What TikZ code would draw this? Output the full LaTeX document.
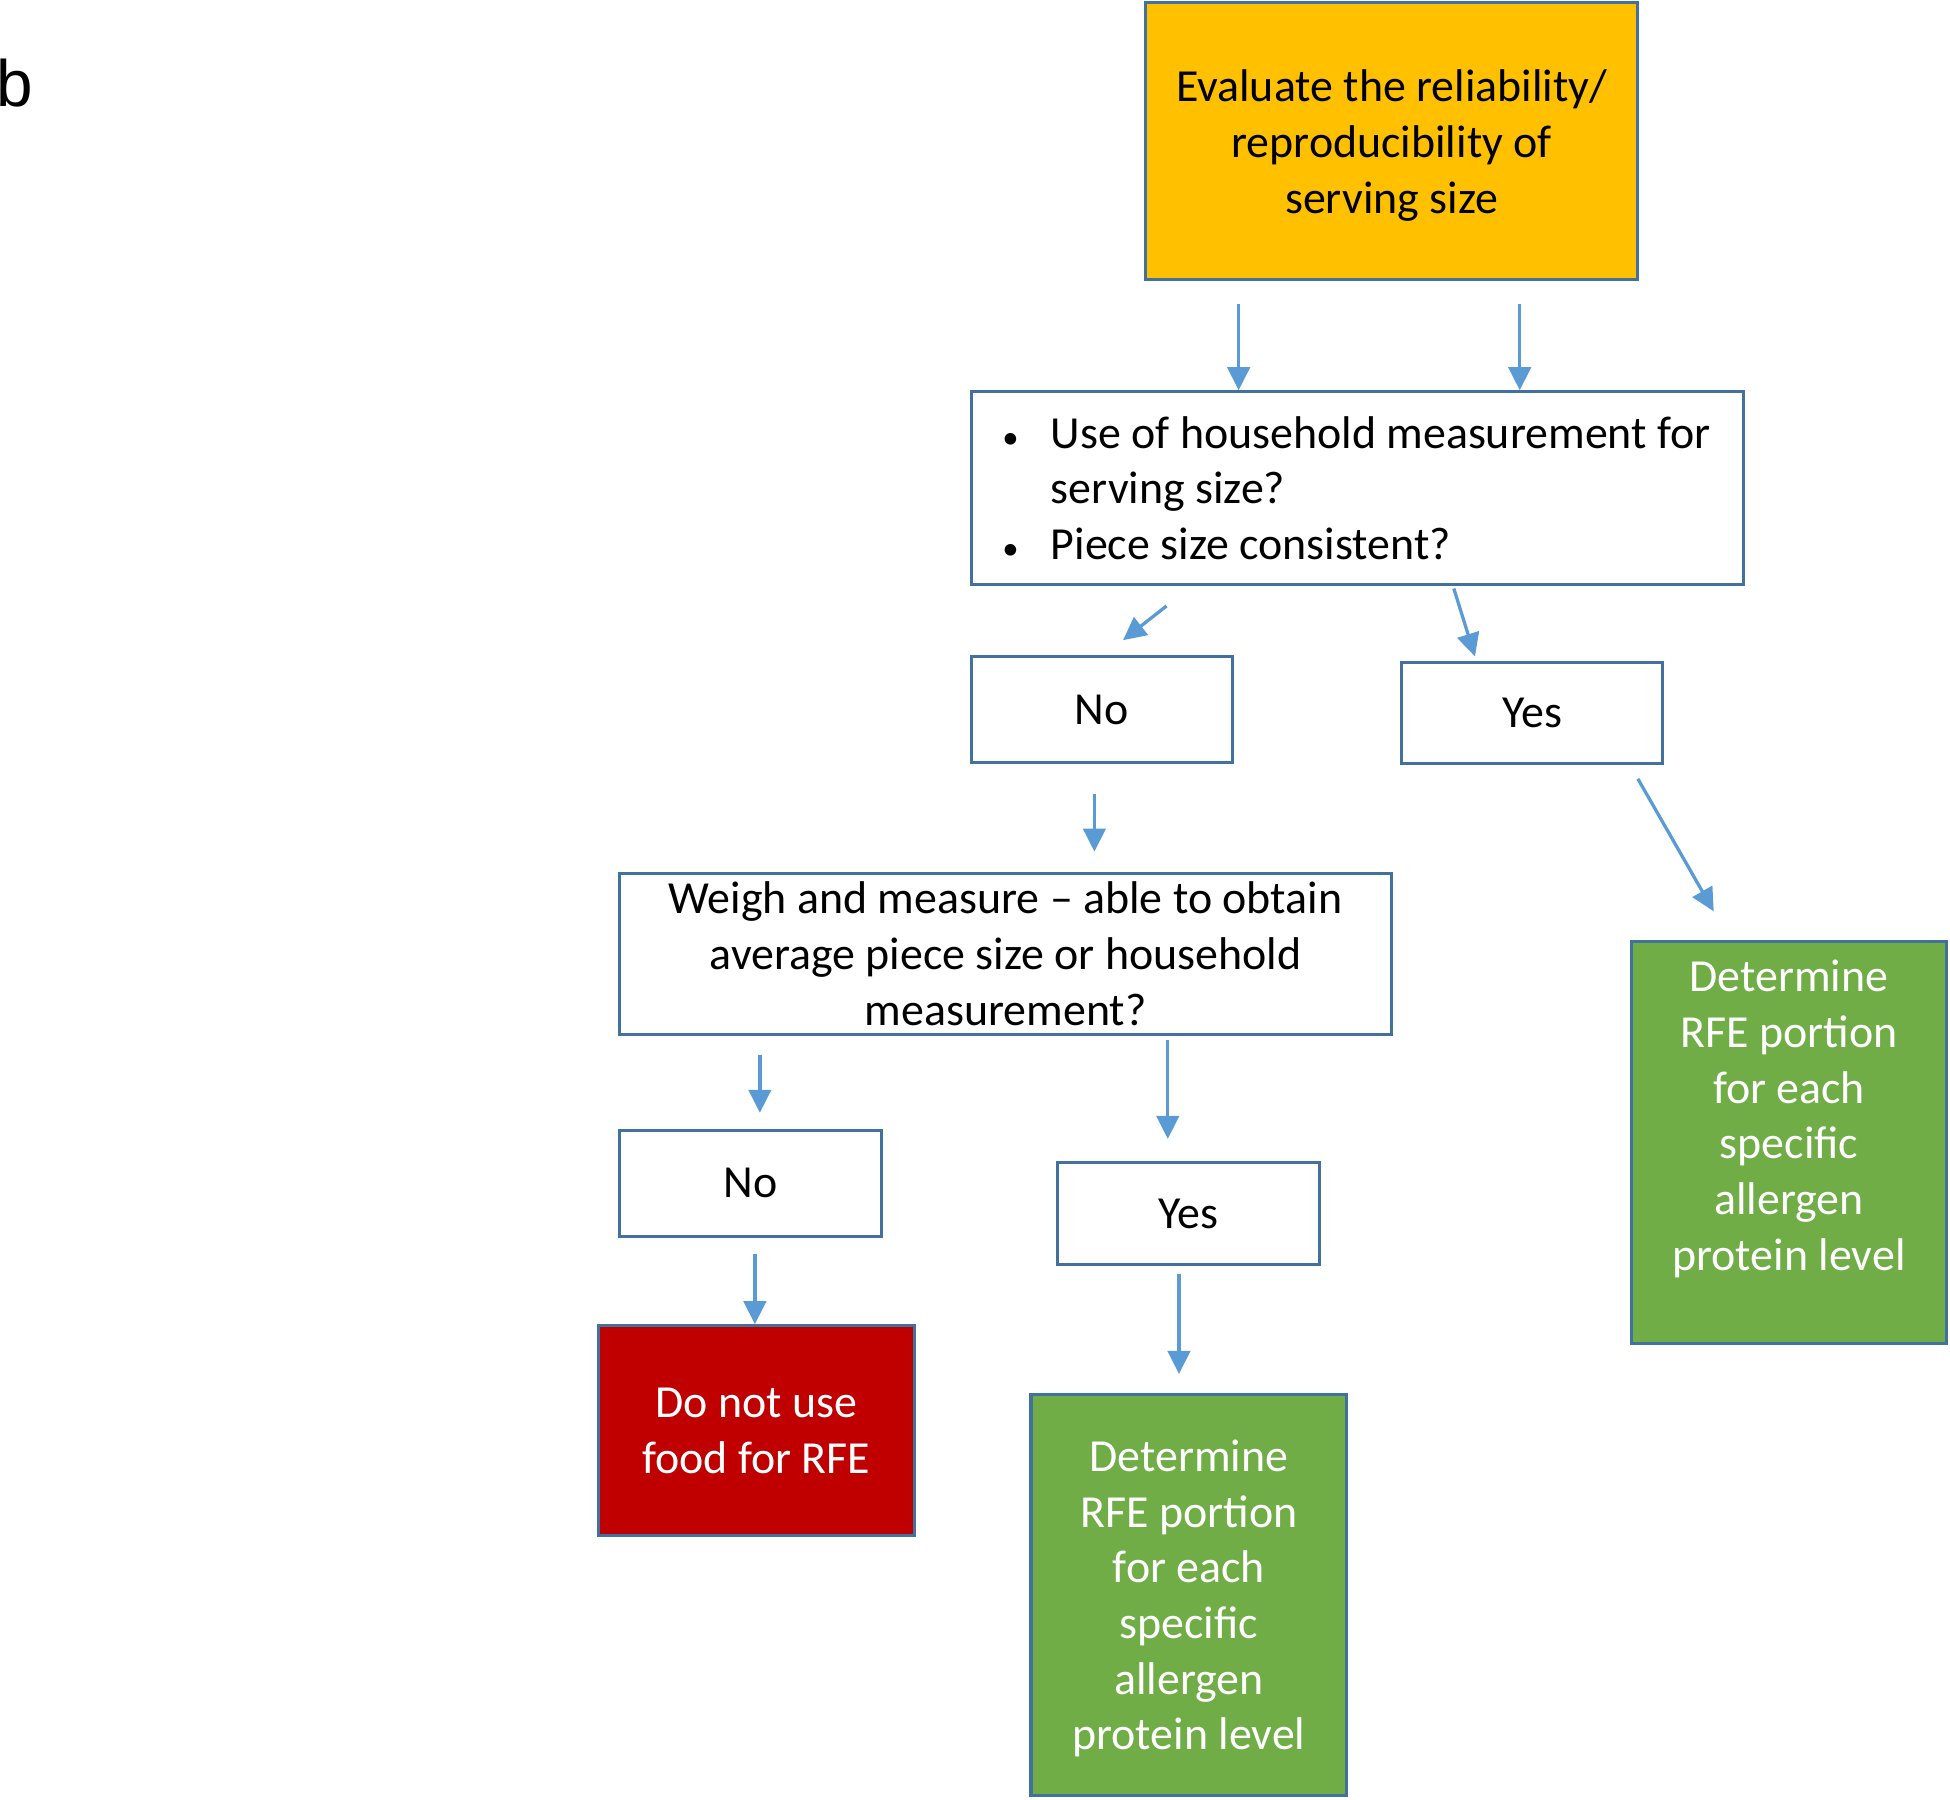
\documentclass[tikz,border=0pt]{standalone}
\usepackage{fontspec}
\setmainfont{Carlito}
\newfontfamily\panelfont{Liberation Sans}
\usepackage{tikz}
\usetikzlibrary{arrows.meta, positioning}
\usepackage{xcolor}
\definecolor{boxblue}{HTML}{41719C}
\definecolor{arrowblue}{HTML}{5B9BD5}
\definecolor{gold}{HTML}{FFC000}
\definecolor{stopred}{HTML}{C00000}
\definecolor{leafgreen}{HTML}{70AD47}

\begin{document}
\begin{tikzpicture}[
    box/.style={draw=boxblue, fill=white, line width=1.4pt, inner sep=0pt, align=center, font=\fontsize{21}{25.5}\selectfont},
    arr/.style={-{Triangle[length=0.37cm, width=0.36cm]}, line width=1.5pt, draw=arrowblue}
]
    \useasboundingbox (0,0) rectangle (31.36,-28.94);

    \node[anchor=base west, inner sep=0pt, font=\panelfont\fontsize{30}{34}\selectfont] (panel) at (-0.06,-1.72) {b};

    \node[box, fill=gold, minimum width=7.92cm, minimum height=4.46cm] (eval) at (22.38,-2.27) {%
        \rule{0pt}{18.5pt}Evaluate the reliability/\\reproducibility of\\serving size%
    };
    \node[box, minimum width=12.42cm, minimum height=3.1cm] (household) at (21.83,-7.85) {%
        \begin{tabular}{@{\hspace{0.5cm}}p{0.78cm}@{}p{11.14cm}@{}}
            \rule{0pt}{22pt}{\fontsize{15}{15}\selectfont\textbullet} & Use of household measurement for\\
                        & serving size?\\
            {\fontsize{15}{15}\selectfont\textbullet} & Piece size consistent?
        \end{tabular}%
    };
    \node[box, minimum width=4.2cm, minimum height=1.7cm] (noA) at (17.72,-11.41) {No};
    \node[box, minimum width=4.2cm, minimum height=1.62cm] (yesA) at (24.64,-11.47) {Yes};
    \node[box, minimum width=12.42cm, minimum height=2.6cm] (weigh) at (16.17,-15.34) {%
        Weigh and measure -- able to obtain\\average piece size or household\\measurement?%
    };
    \node[box, fill=leafgreen, text=white, minimum width=5.06cm, minimum height=6.46cm] (rfeA) at (28.77,-18.37) {%
        \begin{tabular}{@{}c@{}}Determine\\RFE portion\\for each\\specific\\allergen\\protein level\\[0.72cm]\end{tabular}%
    };
    \node[box, minimum width=4.22cm, minimum height=1.7cm] (noB) at (12.07,-19.03) {No};
    \node[box, minimum width=4.22cm, minimum height=1.64cm] (yesB) at (19.11,-19.52) {Yes};
    \node[box, fill=stopred, text=white, minimum width=5.08cm, minimum height=3.38cm] (stop) at (12.16,-23.01) {%
        Do not use\\food for RFE%
    };
    \node[box, fill=leafgreen, text=white, minimum width=5.08cm, minimum height=6.46cm] (rfeB) at (19.12,-25.65) {%
        \begin{tabular}{@{}c@{}}\rule{0pt}{22pt}Determine\\RFE portion\\for each\\specific\\allergen\\protein level\end{tabular}%
    };

    \draw[arr, shorten <=0.36cm] ([xshift=-2.46cm]eval.south) -- ([xshift=-2.46cm]eval.south |- household.north);
    \draw[arr, shorten <=0.36cm] ([xshift=2.06cm]eval.south) -- ([xshift=2.06cm]eval.south |- household.north);
    \draw[arr] ([xshift=-3.07cm, yshift=-0.32cm]household.south) -- ([xshift=0.34cm, yshift=0.24cm]noA.north);
    \draw[arr] ([xshift=1.55cm, yshift=-0.04cm]household.south) -- ([xshift=-0.92cm, yshift=0.08cm]yesA.north);
    \draw[arr, shorten <=0.48cm, shorten >=0.32cm] ([xshift=-0.12cm]noA.south) -- ([xshift=-0.12cm]noA.south |- weigh.north);
    \draw[arr] ([xshift=1.7cm, yshift=-0.22cm]yesA.south) -- ([xshift=-1.21cm, yshift=0.46cm]rfeA.north);
    \draw[arr, shorten <=0.3cm, shorten >=0.26cm] ([xshift=-3.95cm]weigh.south) -- ([xshift=-3.95cm]weigh.south |- noB.north);
    \draw[arr, shorten <=0.06cm, shorten >=0.36cm] ([xshift=2.61cm]weigh.south) -- ([xshift=2.61cm]weigh.south |- yesB.north);
    \draw[arr, shorten <=0.26cm] ([xshift=0.07cm]noB.south) -- ([xshift=0.07cm]noB.south |- stop.north);
    \draw[arr, shorten <=0.12cm, shorten >=0.3cm] ([xshift=-0.15cm]yesB.south) -- ([xshift=-0.15cm]yesB.south |- rfeB.north);
\end{tikzpicture}
\end{document}
